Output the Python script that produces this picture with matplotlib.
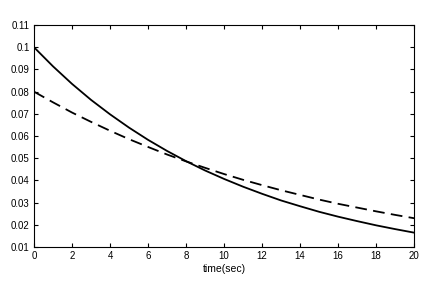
import matplotlib
matplotlib.use("Agg")
import matplotlib.pyplot as plt

# values, one point per second
t = list(range(0, 21))
solid = [0.1000, 0.0914, 0.0835, 0.0763, 0.0698, 0.0638, 0.0583, 0.0533,
         0.0487, 0.0445, 0.0407, 0.0372, 0.0340, 0.0310, 0.0284, 0.0259,
         0.0237, 0.0217, 0.0198, 0.0181, 0.0165]
dashed = [0.0800, 0.0752, 0.0706, 0.0664, 0.0624, 0.0586, 0.0551, 0.0517,
          0.0486, 0.0457, 0.0429, 0.0403, 0.0379, 0.0356, 0.0335, 0.0314,
          0.0295, 0.0278, 0.0261, 0.0245, 0.0230]
xticks = list(range(0, 21, 2))
yticks = [0.01, 0.02, 0.03, 0.04, 0.05, 0.06, 0.07, 0.08, 0.09, 0.1, 0.11]
yticklabels = ['0.01', '0.02', '0.03', '0.04', '0.05', '0.06', '0.07',
               '0.08', '0.09', '0.1', '0.11']

plt.rcParams['font.family'] = ['Liberation Sans', 'DejaVu Sans']

fig = plt.figure(figsize=(4.36, 2.88), dpi=100)
ax = fig.add_axes([0.078, 0.142, 0.872, 0.771])

ax.plot(t, solid, color='black', lw=1.3)
ax.plot(t, dashed, color='black', lw=1.3, dashes=(6.5, 3.5))

ax.set_xlim(0, 20)
ax.set_ylim(0.01, 0.11)
ax.set_xticks(xticks)
ax.set_yticks(yticks)
ax.set_yticklabels(yticklabels)
ax.tick_params(direction='in', top=True, right=True, length=3, width=0.8,
               labelsize=7, colors='black', pad=3)
for s in ax.spines.values():
    s.set_linewidth(0.8)
ax.set_xlabel('time(sec)', fontsize=7.5, labelpad=2)

fig.savefig('out.png', dpi=100)
